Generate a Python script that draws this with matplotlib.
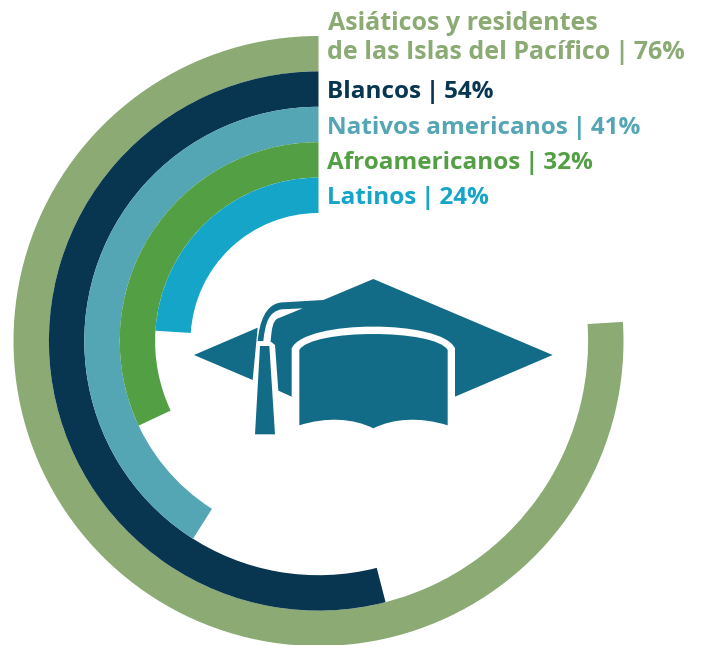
import numpy as np
import matplotlib
matplotlib.use('Agg')
import matplotlib.pyplot as plt
from matplotlib.patches import PathPatch, Polygon
from matplotlib.path import Path

# outermost ring first
groups = ['de las Islas del Pacífico', 'Blancos', 'Nativos americanos', 'Afroamericanos', 'Latinos']
values = [76, 54, 41, 32, 24]
colors = ['#8BAA74', '#083651', '#55A6B4', '#53A044', '#14A5C9']
hat_color = '#136C87'

# label baselines and sizes
label_y = [59, 98, 134, 169, 204]
label_fs = [18.0, 17.5, 17.5, 17.5, 17.5]

W, H = 701, 645
cx, cy = 318.5, 341.0
rmax = 310.0
ring = 35.4
outer = 305.0

plt.rcParams['font.family'] = ['Open Sans', 'DejaVu Sans']

fig = plt.figure(figsize=(W/100., H/100.), dpi=100)

# polar axes for the rings, placed so that r=0 sits on the ring centre
ax = fig.add_axes([(cx-rmax)/W, 1-(cy+rmax)/H, 2*rmax/W, 2*rmax/H], projection='polar')
ax.set_theta_zero_location('N')
ax.set_theta_direction(1)
ax.set_rlim(0, rmax)
ax.axis('off')

for i in range(len(values)):
    width = values[i]/100.*2*np.pi
    ax.bar(width/2., ring, width=width, bottom=outer-ring*(i+1), color=colors[i], linewidth=0)

# overlay in pixel coordinates for the icon and the labels
top = fig.add_axes([0, 0, 1, 1])
top.set_xlim(0, W)
top.set_ylim(H, 0)
top.axis('off')
top.patch.set_alpha(0)


def z(pts):
    return [(180+x/3., 260+y/3.) for x, y in pts]


def curve_shape(verts, codes, color):
    top.add_patch(PathPatch(Path(z(verts), codes), facecolor=color, edgecolor='none'))


M, L, C, X = Path.MOVETO, Path.LINETO, Path.CURVE4, Path.CLOSEPOLY

# board with the outer band of the cord
curve_shape([(580, 57), (1118, 285), (825, 410), (335, 410), (295, 392), (285, 255), (270, 243),
             (233, 243), (238, 190), (255, 128), (310, 127), (430, 120), (580, 57)],
            [M, L, L, L, L, L, L, L, C, C, C, L, X], hat_color)
# left wing of the board
top.add_patch(Polygon(z([(42, 285), (233, 203), (218, 360)]), closed=True, facecolor=hat_color, edgecolor='none'))
# white inside the cord
curve_shape([(368, 145), (305, 148), (265, 155), (256, 190), (250, 243), (272, 243),
             (275, 205), (278, 185), (292, 176), (368, 145)],
            [M, L, C, C, C, L, C, C, C, X], 'white')
# tassel
top.add_patch(Polygon(z([(240, 258), (268, 258), (285, 523), (225, 523)]), closed=True, facecolor=hat_color, edgecolor='none'))

# white rim of the cap
curve_shape([(335, 412), (335, 265), (375, 178), (785, 178), (825, 265), (825, 412), (335, 412)],
            [M, L, C, C, C, L, X], 'white')
# cap
curve_shape([(358, 496), (358, 270), (395, 206), (765, 206), (803, 270), (803, 496),
             (720, 470), (640, 475), (580, 505), (520, 475), (440, 470), (358, 496), (358, 496)],
            [M, L, C, C, C, L, C, C, C, C, C, C, X], hat_color)

top.text(328, 30, 'Asiáticos y residentes', color=colors[0], fontsize=label_fs[0], fontweight='bold', va='baseline')
for i in range(len(values)):
    top.text(327, label_y[i], groups[i]+'\u2009|\u2009'+str(values[i])+'%', color=colors[i], fontsize=label_fs[i],
             fontweight='bold', va='baseline')

plt.savefig('out.png', dpi=100)
plt.close()
